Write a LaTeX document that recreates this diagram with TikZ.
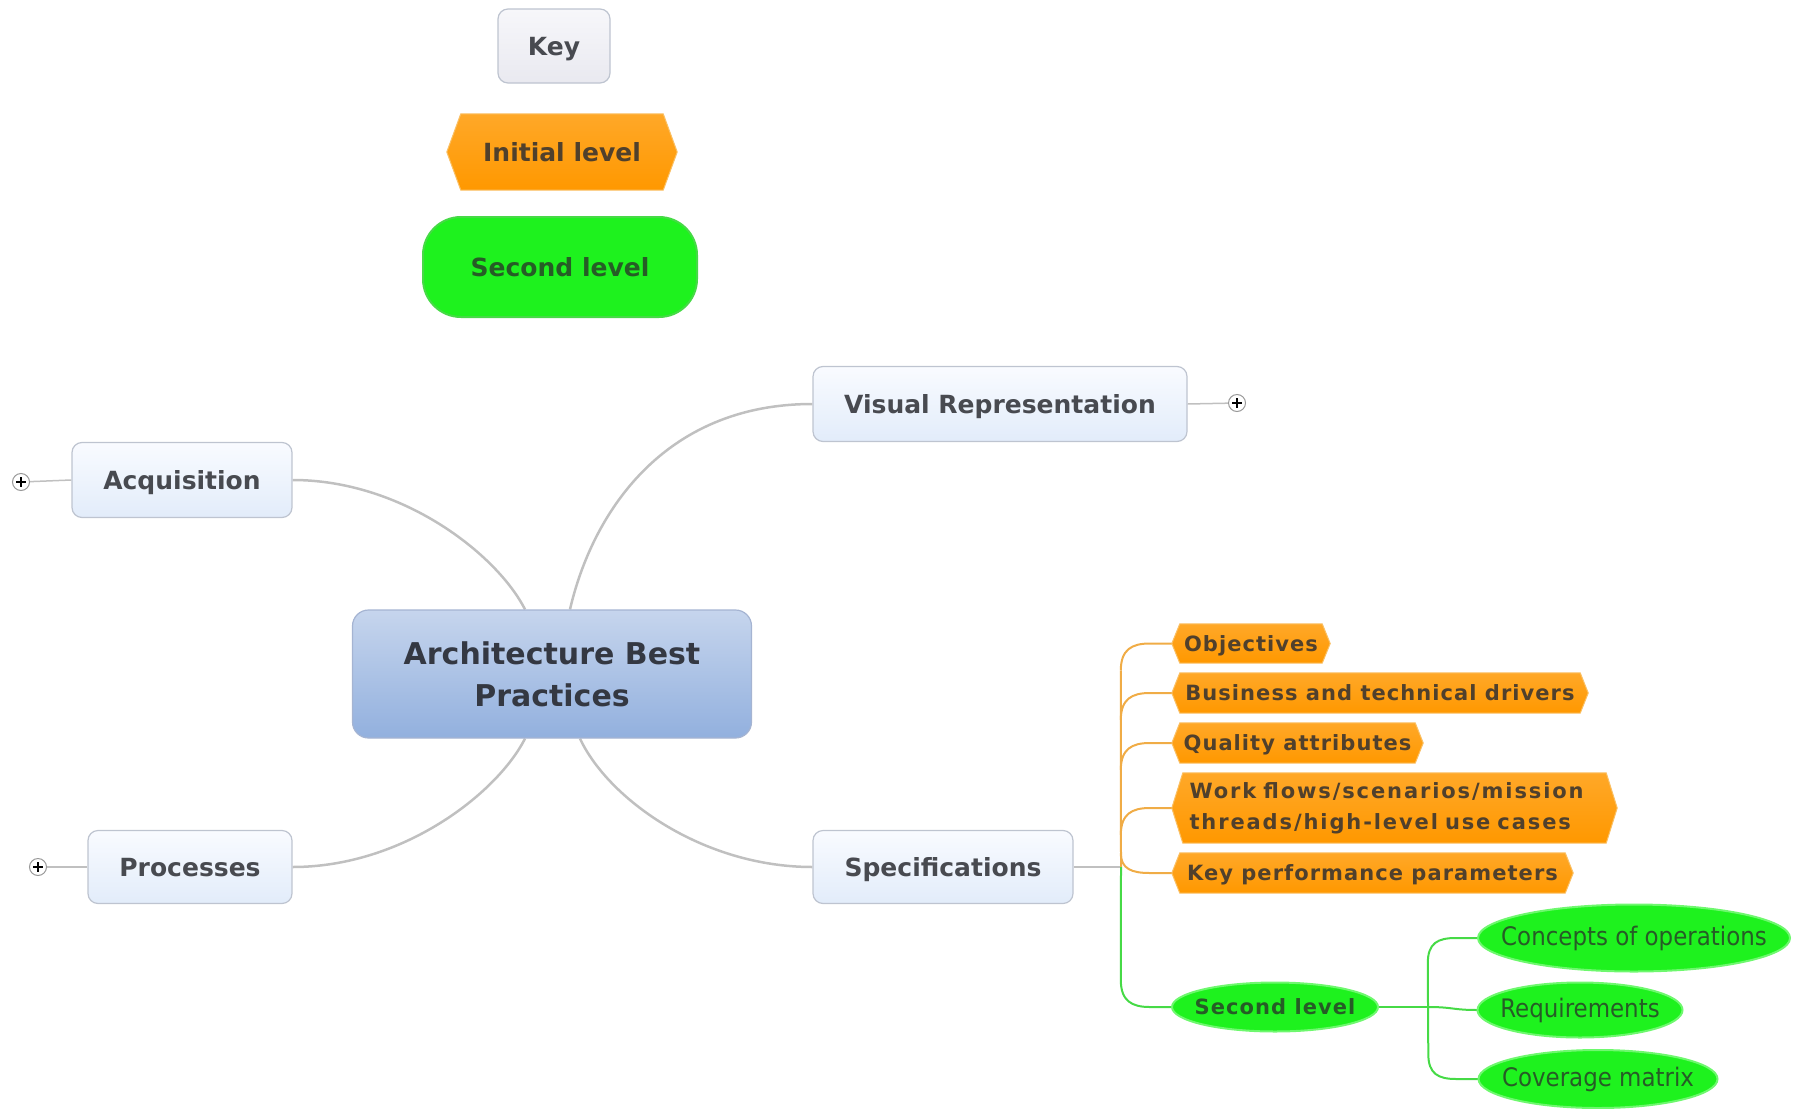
\documentclass[tikz,border=0pt]{standalone}
\usepackage{fontspec}
\setmainfont{DejaVu Sans}
\newfontfamily\spaced[LetterSpace=5]{DejaVu Sans}
\newfontfamily\wide[LetterSpace=9]{DejaVu Sans}
\newfontfamily\cond{DejaVu Sans Condensed}
\usetikzlibrary{calc,backgrounds}
\definecolor{boxtop}{RGB}{249,251,255}
\definecolor{boxbot}{RGB}{226,236,250}
\definecolor{boxedge}{RGB}{190,196,208}
\definecolor{boxtext}{RGB}{72,74,80}
\definecolor{keytop}{RGB}{247,247,250}
\definecolor{keybot}{RGB}{233,233,240}
\definecolor{ctop}{RGB}{198,213,237}
\definecolor{cbot}{RGB}{146,176,222}
\definecolor{cedge}{RGB}{165,180,210}
\definecolor{ctext}{RGB}{52,56,66}
\definecolor{orfill}{RGB}{255,152,0}
\definecolor{ortop}{RGB}{255,168,40}
\definecolor{oredge}{RGB}{250,192,100}
\definecolor{ortext}{RGB}{80,64,44}
\definecolor{grfill}{RGB}{30,242,30}
\definecolor{gredge}{RGB}{110,248,110}
\definecolor{grtext}{RGB}{38,92,38}
\definecolor{connc}{RGB}{192,192,192}
\definecolor{olc}{RGB}{240,172,70}
\definecolor{glc}{RGB}{70,218,70}
\newcommand\hexfill[2]{%
  \shadedraw[top color=ortop, bottom color=orfill, draw=oredge, line width=1pt]
    (#1.west) -- ($(#1.north west)+(#2,0)$) -- ($(#1.north east)+(-#2,0)$) --
    (#1.east) -- ($(#1.south east)+(-#2,0)$) -- ($(#1.south west)+(#2,0)$) -- cycle;}
\newcommand\ellfill[3]{%
  \filldraw[fill=grfill, draw=gredge, line width=2pt] (#1.center) ellipse [x radius=#2pt, y radius=#3pt];}
\tikzset{
  box/.style={rectangle, rounded corners=10pt, draw=boxedge, line width=1.2pt,
    top color=boxtop, bottom color=boxbot, text=boxtext, inner sep=0pt, text depth=0pt,
    font=\bfseries\fontsize{25}{30}\selectfont},
  keybox/.style={box, top color=keytop, bottom color=keybot},
  central/.style={rectangle, rounded corners=16pt, draw=cedge, line width=1.2pt,
    top color=ctop, bottom color=cbot, text=ctext, inner sep=0pt, align=center,
    font=\bfseries\fontsize{30}{42}\selectfont},
  orng/.style={rectangle, inner sep=0pt, text=ortext, text depth=0pt,
    font=\spaced\bfseries\fontsize{21}{31}\selectfont},
  gtxt/.style={rectangle, inner sep=0pt, text=grtext,
    font=\cond\fontsize{25.5}{28}\selectfont},
  gkey/.style={rectangle, rounded corners=38pt, fill=grfill, draw=glc, line width=2pt,
    text=grtext, inner sep=0pt, text depth=0pt, font=\bfseries\fontsize{25}{30}\selectfont},
  plusnode/.style={circle, draw=gray!80, fill=white, line width=1pt, minimum size=17pt, inner sep=0pt,
    path picture={\draw[black, line width=1.6pt]
      ($(path picture bounding box.center)+(-5,0)$) -- ($(path picture bounding box.center)+(5,0)$)
      ($(path picture bounding box.center)+(0,-5)$) -- ($(path picture bounding box.center)+(0,5)$);}},
  conn/.style={draw=connc, line width=2.5pt},
  thin/.style={draw=connc, line width=1.5pt},
  ol/.style={draw=olc, line width=2pt},
  gl/.style={draw=glc, line width=2pt}
}
\begin{document}
\begin{tikzpicture}[x=1pt, y=-1pt]
\useasboundingbox (0,0) rectangle (1801,1108);
% key
\node[keybox, minimum width=112pt, minimum height=74pt] (key) at (554,46) {Key};
\node[orng, font=\bfseries\fontsize{25}{30}\selectfont, minimum width=230pt, minimum height=76pt] (init) at (562,152) {Initial level};
\node[gkey, minimum width=274pt, minimum height=100pt] (sec) at (560,267) {Second level};
% main
\node[central, minimum width=399pt, minimum height=128pt] (c) at (552,674) {Architecture Best\\Practices};
\node[box, minimum width=220pt, minimum height=75pt] (acq) at (182,480) {Acquisition};
\node[box, minimum width=374pt, minimum height=75pt] (vis) at (1000,404) {Visual Representation};
\node[box, minimum width=204pt, minimum height=73pt] (proc) at (190,867) {Processes};
\node[box, minimum width=260pt, minimum height=73pt] (spec) at (943,867) {Specifications};
\node[plusnode] (pa) at (21,482) {};
\node[plusnode] (pv) at (1237,403) {};
\node[plusnode] (pp) at (38,867) {};
% orange
\node[orng, minimum width=158pt, minimum height=39pt] (obj) at (1251,643.5) {Objectives};
\node[orng, minimum width=416pt, minimum height=40pt] (bus) at (1380,693) {Business and technical drivers};
\node[orng, minimum width=251pt, minimum height=40pt] (qual) at (1297.5,743) {Quality attributes};
\node[orng, font=\wide\bfseries\fontsize{21}{31}\selectfont, minimum width=445pt, minimum height=70pt, text depth=, align=left, text width=410pt] (wf) at (1394.5,808) {Work flows/scenarios/mission\\threads/high-level use cases};
\node[orng, minimum width=401pt, minimum height=40pt] (kpp) at (1372.5,873) {Key performance parameters};
% green
\node[gtxt, font=\spaced\bfseries\fontsize{21}{26}\selectfont, text depth=0pt, minimum width=206pt, minimum height=49pt] (sl) at (1275,1007) {Second level};
\node[gtxt, minimum width=312pt, minimum height=67pt] (co) at (1634,938) {Concepts of operations};
\node[gtxt, minimum width=205pt, minimum height=55pt] (rq) at (1580,1010) {Requirements};
\node[gtxt, minimum width=239pt, minimum height=58pt] (cm) at (1598,1079) {Coverage matrix};
\coordinate (oj) at (1121,867);
\coordinate (gj) at (1428,1007);
\begin{scope}[on background layer]
  % gray main connectors
  \draw[conn] (acq.east) .. controls ($(acq.east)+(110,0)$) and ($([xshift=-27pt]c.north)+(-28,-55)$) .. ([xshift=-27pt]c.north);
  \draw[conn] ([xshift=18pt]c.north) .. controls ($([xshift=18pt]c.north)+(22,-95)$) and ($(vis.west)+(-150,0)$) .. (vis.west);
  \draw[conn] ([xshift=-27pt]c.south) .. controls ($([xshift=-27pt]c.south)+(-28,55)$) and ($(proc.east)+(110,0)$) .. (proc.east);
  \draw[conn] ([xshift=28pt]c.south) .. controls ($([xshift=28pt]c.south)+(28,60)$) and ($(spec.west)+(-110,0)$) .. (spec.west);
  \draw[thin] (pa) -- (acq.west);
  \draw[thin] (vis.east) -- (pv);
  \draw[thin] (pp) -- (proc.west);
  \draw[thin] (spec.east) -- (oj);
  % orange tree
  \draw[ol] (oj) -- ($(obj.west)+(-51,27)$);
  \foreach \n in {obj,bus,qual,wf}{
    \draw[ol] ($(\n.west)+(-51,27)$) .. controls ($(\n.west)+(-51,6)$) and ($(\n.west)+(-40,0)$) .. ($(\n.west)+(-22,0)$) -- (\n.west);
  }
  \draw[ol] ($(kpp.west)+(-51,-20)$) .. controls ($(kpp.west)+(-51,-4)$) and ($(kpp.west)+(-40,0)$) .. ($(kpp.west)+(-22,0)$) -- (kpp.west);
  % green tree
  \draw[gl] (oj) -- ($(sl.west)+(-51,-27)$) .. controls ($(sl.west)+(-51,-6)$) and ($(sl.west)+(-40,0)$) .. ($(sl.west)+(-22,0)$) -- (sl.west);
  \draw[gl] (sl.east) -- (gj);
  \draw[gl] (gj) -- ($(co.west)+(-50,25)$) .. controls ($(co.west)+(-50,5)$) and ($(co.west)+(-40,0)$) .. ($(co.west)+(-22,0)$) -- (co.west);
  \draw[gl] (gj) -- ($(cm.west)+(-50,-25)$) .. controls ($(cm.west)+(-50,-5)$) and ($(cm.west)+(-40,0)$) .. ($(cm.west)+(-22,0)$) -- (cm.west);
  \draw[gl] (gj) .. controls ($(gj)+(25,0)$) and ($(rq.west)+(-25,0)$) .. (rq.west);
  % shapes
  \hexfill{init}{14}
  \hexfill{obj}{8}
  \hexfill{bus}{8}
  \hexfill{qual}{8}
  \hexfill{wf}{11}
  \hexfill{kpp}{8}
  \ellfill{sl}{103}{24.5}
  \ellfill{co}{156}{33.5}
  \ellfill{rq}{102.5}{27.5}
  \ellfill{cm}{119.5}{29}
\end{scope}
\end{tikzpicture}
\end{document}
